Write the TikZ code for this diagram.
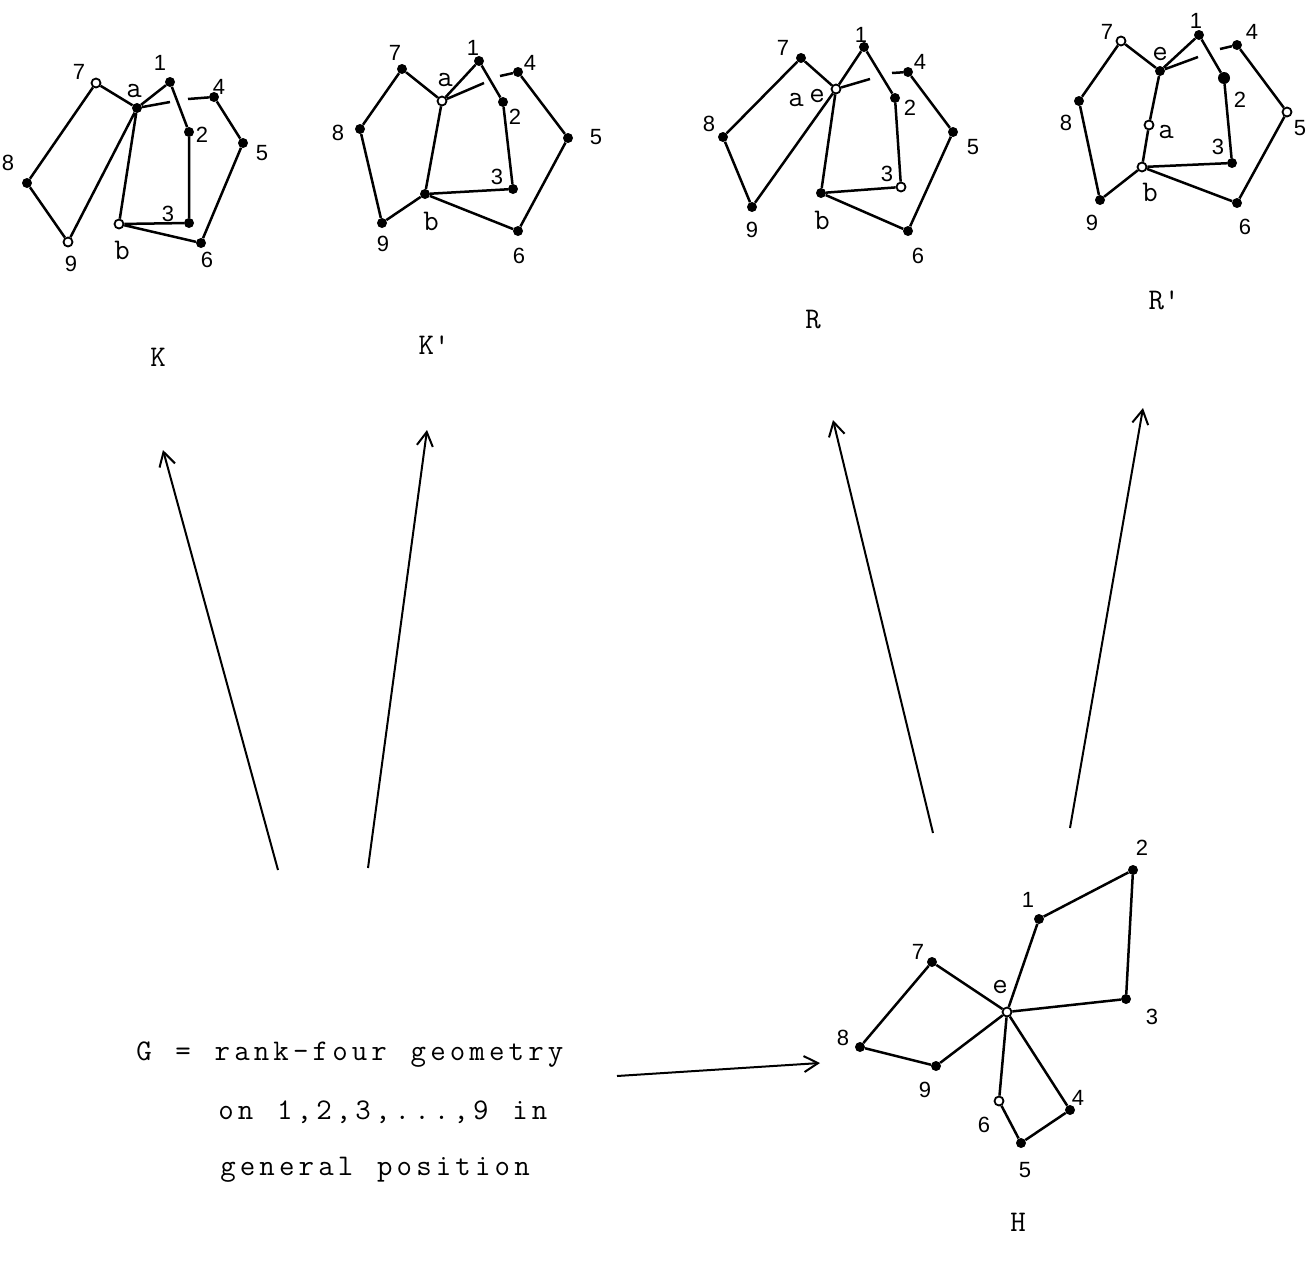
\documentclass[tikz,border=0pt]{standalone}
\usepackage{fontspec}
\usetikzlibrary{arrows.meta}
\newfontfamily\sansf{Liberation Sans}
\makeatletter
\newcommand\twline[1]{\@tfor\tw@c:=#1\do{\makebox[19.6pt]{\tw@c}}}
\makeatother
\tikzset{
  fdot/.style={circle, fill=black, inner sep=0pt, minimum size=10pt},
  odot/.style={circle, draw=black, fill=white, line width=1.8pt, inner sep=0pt, minimum size=9pt},
  gedge/.style={line width=2.5pt},
  numl/.style={font=\sansf\fontsize{22}{24}\selectfont, inner sep=0pt},
  letl/.style={font=\ttfamily\fontsize{30}{32}\selectfont, inner sep=0pt},
  captl/.style={font=\ttfamily\fontsize{30}{32}\selectfont, inner sep=0pt},
  txtl/.style={font=\ttfamily\fontsize{30}{36}\selectfont, inner sep=0pt, anchor=base west},
  bigarrow/.style={line width=2pt, -{Straight Barb[length=14pt,width=16pt,line width=2pt]}}
}
\begin{document}
\begin{tikzpicture}[x=1pt,y=-1pt]
\useasboundingbox[fill=white] (0,0) rectangle (1312,1261);

% ---------------- K ----------------
\node[fdot] (k1) at (170,82) {};
\node[odot] (k7) at (96,83) {};
\node[fdot] (ka) at (137,108) {};
\node[fdot] (k4) at (214,97) {};
\node[fdot] (k2) at (189,132) {};
\node[fdot] (k5) at (243,143) {};
\node[fdot] (k8) at (27,183) {};
\node[odot] (k9) at (68,242) {};
\node[odot] (kb) at (119,224) {};
\node[fdot] (k3) at (189,223) {};
\node[fdot] (k6) at (201,243) {};
\coordinate (kx1) at (170,102);
\coordinate (kx2) at (188,99);
\draw[gedge] (k7)--(ka) (k7)--(k8) (k8)--(k9) (k9)--(ka) (ka)--(k1) (k1)--(k2) (k2)--(k3)
  (k3)--(kb) (kb)--(ka) (kb)--(k6) (k6)--(k5) (k5)--(k4) (ka)--(kx1) (kx2)--(k4);
\node[numl] (kl7) at (79,72) {7};
\node[letl] (kla) at (134,91) {a};
\node[numl] (kl1) at (160,63) {1};
\node[numl] (kl4) at (219,87) {4};
\node[numl] (kl2) at (202,135) {2};
\node[numl] (kl5) at (262,153) {5};
\node[numl] (kl8) at (8,163) {8};
\node[numl] (kl9) at (71,264) {9};
\node[letl] (klb) at (122,250) {b};
\node[numl] (kl3) at (168,214) {3};
\node[numl] (kl6) at (207,260) {6};
\node[captl] (kcap) at (158,357) {K};

% ---------------- K' ----------------
\node[fdot] (p7) at (402,69) {};
\node[odot] (pa) at (442,101) {};
\node[fdot] (p1) at (479,61) {};
\node[fdot] (p4) at (518,72) {};
\node[fdot] (p2) at (503,102) {};
\node[fdot] (p5) at (568,138) {};
\node[fdot] (p8) at (360,129) {};
\node[fdot] (p9) at (382,223) {};
\node[fdot] (pb) at (425,194) {};
\node[fdot] (p3) at (513,189) {};
\node[fdot] (p6) at (518,231) {};
\coordinate (px1) at (484,83);
\coordinate (px2) at (500,76);
\draw[gedge] (p7)--(pa) (p7)--(p8) (p8)--(p9) (p9)--(pb) (pb)--(pa) (pa)--(p1) (p1)--(p2)
  (p2)--(p3) (p3)--(pb) (pb)--(p6) (p6)--(p5) (p5)--(p4) (pa)--(px1) (px2)--(p4);
\node[numl] (pl7) at (395,53) {7};
\node[letl] (pla) at (445,80) {a};
\node[numl] (pl1) at (473,48) {1};
\node[numl] (pl4) at (530,63) {4};
\node[numl] (pl2) at (515,117) {2};
\node[numl] (pl5) at (596,137) {5};
\node[numl] (pl8) at (338,133) {8};
\node[numl] (pl9) at (383,244) {9};
\node[letl] (plb) at (431,221) {b};
\node[numl] (pl3) at (497,177) {3};
\node[numl] (pl6) at (519,256) {6};
\node[captl] (pcap) at (434,345) {K\char"27};

% ---------------- R ----------------
\node[fdot] (r7) at (801,58) {};
\node[odot] (rae) at (836,89) {};
\node[fdot] (r1) at (864,47) {};
\node[fdot] (r4) at (908,72) {};
\node[fdot] (r2) at (895,98) {};
\node[fdot] (r5) at (953,132) {};
\node[fdot] (r8) at (723,137) {};
\node[fdot] (r9) at (752,207) {};
\node[fdot] (rb) at (821,193) {};
\node[odot] (r3) at (901,187) {};
\node[fdot] (r6) at (908,231) {};
\coordinate (rx1) at (870,79);
\coordinate (rx2) at (892,73);
\draw[gedge] (r7)--(rae) (r7)--(r8) (r8)--(r9) (r9)--(rae) (rae)--(r1) (r1)--(r2) (r2)--(r3)
  (r3)--(rb) (rb)--(rae) (rb)--(r6) (r6)--(r5) (r5)--(r4) (rae)--(rx1) (rx2)--(r4);
\node[numl] (rl7) at (783,48) {7};
\node[letl] (rla) at (796,100) {a};
\node[letl] (rle) at (817,96) {e};
\node[numl] (rl1) at (861,35) {1};
\node[numl] (rl4) at (920,62) {4};
\node[numl] (rl2) at (910,108) {2};
\node[numl] (rl5) at (973,147) {5};
\node[numl] (rl8) at (709,124) {8};
\node[numl] (rl9) at (752,230) {9};
\node[letl] (rlb) at (822,220) {b};
\node[numl] (rl3) at (887,174) {3};
\node[numl] (rl6) at (918,256) {6};
\node[captl] (rcap) at (813,320) {R};

% ---------------- R' ----------------
\node[odot] (q7) at (1121,41) {};
\node[fdot] (qe) at (1160,71) {};
\node[fdot] (q1) at (1199,35) {};
\node[fdot] (q4) at (1237,45) {};
\node[fdot, minimum size=12pt] (q2) at (1224,78) {};
\node[odot] (q5) at (1287,112) {};
\node[fdot] (q8) at (1079,101) {};
\node[odot] (qa) at (1149,125) {};
\node[fdot] (q9) at (1100,200) {};
\node[odot] (qb) at (1142,167) {};
\node[fdot] (q3) at (1232,163) {};
\node[fdot] (q6) at (1237,203) {};
\coordinate (qx1) at (1198,57);
\coordinate (qx2) at (1220,49);
\draw[gedge] (q7)--(qe) (q7)--(q8) (q8)--(q9) (q9)--(qb) (qb)--(qa) (qa)--(qe) (qe)--(q1)
  (q1)--(q2) (q2)--(q3) (q3)--(qb) (qb)--(q6) (q6)--(q5) (q5)--(q4) (qe)--(qx1) (qx2)--(q4);
\node[numl] (ql7) at (1107,32) {7};
\node[letl] (qle) at (1160,54) {e};
\node[numl] (ql1) at (1196,21) {1};
\node[numl] (ql4) at (1252,32) {4};
\node[numl] (ql2) at (1240,100) {2};
\node[numl] (ql5) at (1300,128) {5};
\node[numl] (ql8) at (1066,123) {8};
\node[letl] (qla) at (1166,132) {a};
\node[numl] (ql3) at (1218,147) {3};
\node[letl] (qlb) at (1150,192) {b};
\node[numl] (ql9) at (1092,223) {9};
\node[numl] (ql6) at (1245,227) {6};
\node[captl] (qcap) at (1164,300) {R\char"27};

% ---------------- H ----------------
\node[fdot] (h2) at (1133,870) {};
\node[fdot] (h1) at (1039,919) {};
\node[fdot] (h7) at (932,962) {};
\node[odot] (he) at (1007,1012) {};
\node[fdot] (h3) at (1126,999) {};
\node[fdot] (h8) at (860,1047) {};
\node[fdot] (h9) at (936,1066) {};
\node[odot] (h6) at (999,1101) {};
\node[fdot] (h5) at (1021,1143) {};
\node[fdot] (h4) at (1070,1110) {};
\draw[gedge] (he)--(h1) (h1)--(h2) (h2)--(h3) (h3)--(he) (he)--(h7) (h7)--(h8) (h8)--(h9)
  (h9)--(he) (he)--(h6) (h6)--(h5) (h5)--(h4) (h4)--(he);
\node[numl] (hl2) at (1142,848) {2};
\node[numl] (hl1) at (1028,900) {1};
\node[numl] (hl7) at (918,952) {7};
\node[letl] (hle) at (1000,987) {e};
\node[numl] (hl3) at (1152,1017) {3};
\node[numl] (hl8) at (843,1038) {8};
\node[numl] (hl9) at (925,1090) {9};
\node[numl] (hl6) at (984,1125) {6};
\node[numl] (hl4) at (1078,1098) {4};
\node[numl] (hl5) at (1025,1170) {5};
\node[captl] (hcap) at (1018,1222) {H};

% ---------------- G text ----------------
\node[txtl] (g1) at (134,1060) {\twline{G~=~rank-four~geometry}};
\node[txtl] (g2) at (216,1119) {\twline{on~1,2,3,...,9~in}};
\node[txtl] (g3) at (218,1175) {\twline{general~position}};

% ---------------- arrows ----------------
\coordinate (a1s) at (278,870); \coordinate (a1e) at (163,450);
\coordinate (a2s) at (368,868); \coordinate (a2e) at (427,430);
\coordinate (a3s) at (933,833); \coordinate (a3e) at (833,420);
\coordinate (a4s) at (1070,828); \coordinate (a4e) at (1143,408);
\coordinate (a5s) at (617,1076); \coordinate (a5e) at (820,1063);
\draw[bigarrow] (a1s) -- (a1e);
\draw[bigarrow] (a2s) -- (a2e);
\draw[bigarrow] (a3s) -- (a3e);
\draw[bigarrow] (a4s) -- (a4e);
\draw[bigarrow] (a5s) -- (a5e);
\end{tikzpicture}
\end{document}
